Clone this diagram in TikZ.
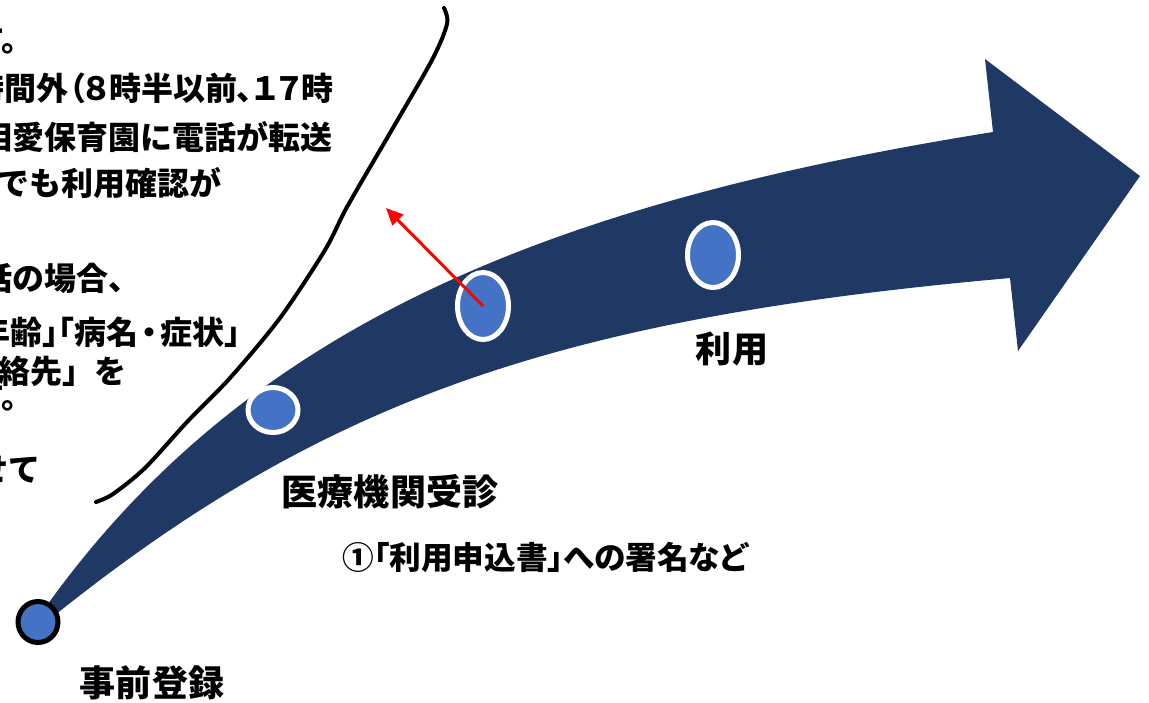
\documentclass[tikz,border=0pt]{standalone}
\usepackage{fontspec}
\setmainfont{Noto Sans CJK JP}
\usetikzlibrary{positioning,arrows.meta,shapes.geometric}
\definecolor{band_navy}{RGB}{32,56,100}
\definecolor{dot_blue}{RGB}{68,114,196}

\begin{document}
\begin{tikzpicture}[x=0.2mm, y=-0.2mm,
        start_dot/.style={ellipse, draw=black, fill=dot_blue, line width=1mm, inner sep=0pt, minimum width=8mm, minimum height=8.2mm},
        step_dot/.style={ellipse, draw=white, fill=dot_blue, line width=1mm, inner sep=0pt},
        stage_label/.style={font=\bfseries\fontsize{20.5}{24}\selectfont, inner sep=0pt},
        sign_label/.style={font=\bfseries\fontsize{18}{22}\selectfont\addfontfeature{RawFeature=+palt}, inner sep=0pt},
        note_text/.style={font=\bfseries\fontsize{18.2}{22}\selectfont, anchor=west, inner sep=0pt}
        ]
            \useasboundingbox (0,0) rectangle (1149,702);
            \clip (0,0) rectangle (1149,702);

            % Areas
            \fill[band_navy] (45,608) .. controls (245,328) and (543,204) .. (993,132)
                -- (985,59) -- (1140,176) -- (1018,351) -- (1010,278)
                .. controls (560,318) and (325,399) .. (55,615)
                -- (38,622) -- cycle;

            % border of the note
            \draw[black, line width=0.8mm, line cap=round] plot[smooth, tension=0.5] coordinates {(96,502) (113,494) (145,468) (187,422) (230,378) (280,318) (325,250) (347,207) (390,133) (432,60) (447,24) (444,8)};

            % stages
            \node[start_dot] (start) at (38,622) {};
            \node[step_dot, minimum width=10mm, minimum height=9mm]     (step_1) at (273,410) {};
            \node[step_dot, minimum width=10.2mm, minimum height=13.4mm] (step_2) at (483,306) {};
            \node[step_dot, minimum width=10.2mm, minimum height=13mm]   (step_3) at (713,255) {};

            % Lines
            \coordinate (note_tip) at (386,208);
            \draw[red, line width=0.6mm, -{Triangle[length=3.4mm, width=3mm]}] (step_2.center) -- (note_tip);

            % text
            \node[stage_label] (lbl_start) at (152,683) {事前登録};
            \node[stage_label] (lbl_visit) at (390,492) {医療機関受診};
            \node[stage_label] (lbl_use)   at (732,349) {利用};
            \node[sign_label]  (lbl_sign)  at (545,557) {①「利用申込書」への署名など};

            % note (cut at the left edge)
            \node[note_text] (note_1) at (-28,40)  {す。};
            \node[note_text, anchor=east] (note_2) at (334,88) {\addfontfeature{RawFeature=+palt}時間外（８時半以前、１７時};
            \node[note_text] (note_3) at (-20,137) {相愛保育園に電話が転送};
            \node[note_text] (note_4) at (-3,183)  {でも利用確認が};
            \node[note_text] (note_5) at (-20,278) {話の場合、};
            \node[note_text] (note_6) at (-22,332) {年齢」\kern-1em「病名\kern-.15em・\kern-.15em症状」};
            \node[note_text] (note_7) at (-34,371) {連絡先」を};
            \node[note_text] (note_8) at (-28,397) {す。};
            \node[note_text] (note_9) at (-24,470) {せて};
        \end{tikzpicture}
\end{document}
